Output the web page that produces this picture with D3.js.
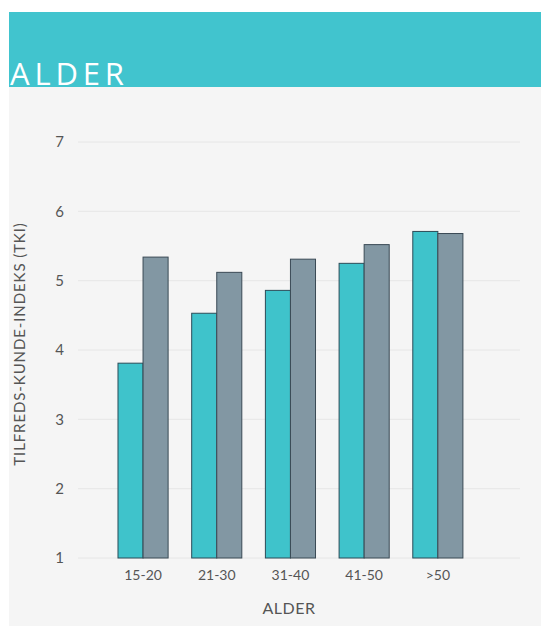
<!DOCTYPE html>
<html><head><meta charset="utf-8">
<script src="https://cdn.jsdelivr.net/npm/d3@7"></script>
<style>
html,body{margin:0;padding:0;background:#fff;}
svg{display:block;}
</style></head>
<body>
<script>
const categories = ["15-20","21-30","31-40","41-50",">50"];
const seriesA = [3.81, 4.53, 4.86, 5.25, 5.71];
const seriesB = [5.34, 5.12, 5.31, 5.52, 5.68];
const yTicks = [1,2,3,4,5,6,7];
const title = "ALDER";
const yTitle = "TILFREDS-KUNDE-INDEKS (TKI)";
const xTitle = "ALDER";

const W = 541, H = 631;
const svg = d3.select("body").append("svg").attr("width", W).attr("height", H);

// panel background
svg.append("rect").attr("x", 9).attr("y", 87).attr("width", W - 9).attr("height", 539).attr("fill", "#f5f5f5");
// header
svg.append("rect").attr("x", 9).attr("y", 12).attr("width", W - 9).attr("height", 75).attr("fill", "#41c4ce");
svg.append("text").attr("x", 10).attr("y", 85).text(title)
  .attr("fill", "#fff").attr("font-family", "Open Sans").attr("font-size", 31)
  .attr("letter-spacing", 4.8);

const y = d3.scaleLinear().domain([1, 7]).range([558, 142]);
const x0 = d3.scaleBand().domain(categories).range([106.2, 474.7]).paddingInner(0.32).paddingOuter(0.16);
const x1 = d3.scaleBand().domain(["A","B"]).range([0, x0.bandwidth()]);

// grid
svg.append("g").selectAll("line").data(yTicks).join("line")
  .attr("x1", 78).attr("x2", 520)
  .attr("y1", d => y(d)).attr("y2", d => y(d))
  .attr("stroke", "#e6e6e6").attr("stroke-width", 1);

// y axis
const yAxis = svg.append("g").attr("transform", "translate(78,0)")
  .call(d3.axisLeft(y).tickValues(yTicks).tickSize(0).tickPadding(14).tickFormat(d3.format("d")));
yAxis.select(".domain").remove();
yAxis.selectAll("text").attr("font-family", "Lato").attr("font-size", 15).attr("fill", "#555");

// x axis
const xAxis = svg.append("g").attr("transform", "translate(0,558)")
  .call(d3.axisBottom(x0).tickSize(0).tickPadding(12));
xAxis.select(".domain").remove();
xAxis.selectAll("text").attr("font-family", "Lato").attr("font-size", 14).attr("fill", "#555");

// bars
const groups = svg.append("g").selectAll("g").data(categories).join("g")
  .attr("transform", d => `translate(${x0(d)},0)`);
groups.append("rect")
  .attr("x", x1("A")).attr("width", x1.bandwidth())
  .attr("y", (d,i) => y(seriesA[i])).attr("height", (d,i) => y(1) - y(seriesA[i]))
  .attr("fill", "#3fc3cb").attr("stroke", "#2c4c58").attr("stroke-width", 1);
groups.append("rect")
  .attr("x", x1("B")).attr("width", x1.bandwidth())
  .attr("y", (d,i) => y(seriesB[i])).attr("height", (d,i) => y(1) - y(seriesB[i]))
  .attr("fill", "#8297a3").attr("stroke", "#3a4a55").attr("stroke-width", 1);

// axis titles
svg.append("text").attr("transform", "translate(25,344) rotate(-90)")
  .attr("text-anchor", "middle").text(yTitle)
  .attr("font-family", "Lato").attr("font-size", 15).attr("letter-spacing", 0.9).attr("fill", "#555");
svg.append("text").attr("x", 289).attr("y", 614).attr("text-anchor", "middle").text(xTitle)
  .attr("font-family", "Lato").attr("font-size", 16).attr("letter-spacing", 0.5).attr("fill", "#555");
</script>
</body></html>
